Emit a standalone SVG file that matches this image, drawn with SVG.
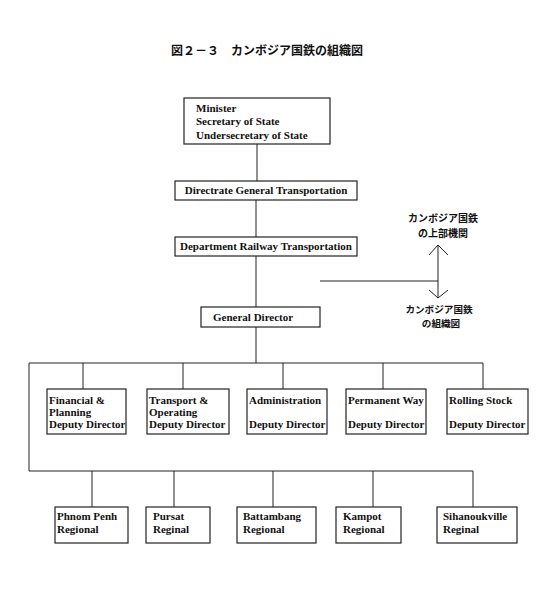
<svg xmlns="http://www.w3.org/2000/svg" width="540" height="589" viewBox="0 0 540 589">
<style>
.box{fill:#fff;stroke:#222;stroke-width:1.2}
.t{font-family:"Liberation Serif","Times New Roman",serif;font-weight:bold;font-size:11px;fill:#111}
.j{font-family:"Noto Sans CJK JP",sans-serif;font-weight:bold;fill:#111}
.ln{fill:none;stroke:#222;stroke-width:1}
</style>
<rect width="540" height="589" fill="#fff"/>
<text class="j" x="171" y="55" font-size="12">図２－３　カンボジア国鉄の組織図</text>

<g id="connectors">
<path class="ln" d="M257 144V181M256 200V237M256 256V307M256 327V363M29 363H483M29 363V471M29 471H473"/>
<path class="ln" d="M83 363V389M183 363V389M283 363V389M383 363V389M483 363V389"/>
<path class="ln" d="M92 471V507M174 471V507M273 471V507M373 471V507M473 471V507"/>
<path class="ln" d="M320 281H438M438 245V298M429 255L438 245L448 255M429 290L438 298L448 290"/>
</g>

<g id="minister">
<rect class="box" x="184" y="98" width="146" height="46"/>
<text class="t" x="196" y="112">Minister</text>
<text class="t" x="196" y="125">Secretary of State</text>
<text class="t" x="196" y="139">Undersecretary of State</text>
</g>
<g id="dgt">
<rect class="box" x="175" y="181" width="182" height="19"/>
<text class="t" x="266" y="194" text-anchor="middle">Directrate General Transportation</text>
</g>
<g id="drt">
<rect class="box" x="175" y="237" width="182" height="19"/>
<text class="t" x="266" y="250" text-anchor="middle">Department Railway Transportation</text>
</g>
<g id="gd">
<rect class="box" x="201" y="307" width="119" height="20"/>
<text class="t" x="213" y="321">General Director</text>
</g>
<g id="label-upper">
<text class="j" x="443" y="222" font-size="10" text-anchor="middle">カンボジア国鉄</text>
<text class="j" x="443" y="237" font-size="10" text-anchor="middle">の上部機関</text>
</g>
<g id="label-lower">
<text class="j" font-size="9.6" text-anchor="middle"><tspan x="439" y="313">カンボジア国鉄</tspan><tspan x="441" y="327">の組織図</tspan></text>
</g>

<g id="fin">
<rect class="box" x="47" y="389" width="79" height="45"/>
<text class="t" x="49" y="404">Financial &amp;</text>
<text class="t" x="49" y="416">Planning</text>
<text class="t" x="49" y="428">Deputy Director</text>
</g>
<g id="trans">
<rect class="box" x="147" y="389" width="82" height="45"/>
<text class="t" x="149" y="404">Transport &amp;</text>
<text class="t" x="149" y="416">Operating</text>
<text class="t" x="149" y="428">Deputy Director</text>
</g>
<g id="admin">
<rect class="box" x="247" y="389" width="80" height="45"/>
<text class="t" x="249" y="404">Administration</text>
<text class="t" x="249" y="428">Deputy Director</text>
</g>
<g id="perm">
<rect class="box" x="346" y="389" width="80" height="45"/>
<text class="t" x="348" y="404">Permanent Way</text>
<text class="t" x="348" y="428">Deputy Director</text>
</g>
<g id="rolling">
<rect class="box" x="447" y="389" width="81" height="45"/>
<text class="t" x="449" y="404">Rolling Stock</text>
<text class="t" x="449" y="428">Deputy Director</text>
</g>

<g id="phnom">
<rect class="box" x="55" y="507" width="73" height="36"/>
<text class="t" x="57" y="520">Phnom Penh</text>
<text class="t" x="57" y="533">Regional</text>
</g>
<g id="pursat">
<rect class="box" x="146" y="507" width="64" height="36"/>
<text class="t" x="153" y="520">Pursat</text>
<text class="t" x="153" y="533">Reginal</text>
</g>
<g id="battambang">
<rect class="box" x="237" y="507" width="79" height="36"/>
<text class="t" x="243" y="520">Battambang</text>
<text class="t" x="243" y="533">Regional</text>
</g>
<g id="kampot">
<rect class="box" x="336" y="507" width="65" height="36"/>
<text class="t" x="343" y="520">Kampot</text>
<text class="t" x="343" y="533">Regional</text>
</g>
<g id="sihanoukville">
<rect class="box" x="437" y="507" width="80" height="36"/>
<text class="t" x="443" y="520">Sihanoukville</text>
<text class="t" x="443" y="533">Reginal</text>
</g>
</svg>
